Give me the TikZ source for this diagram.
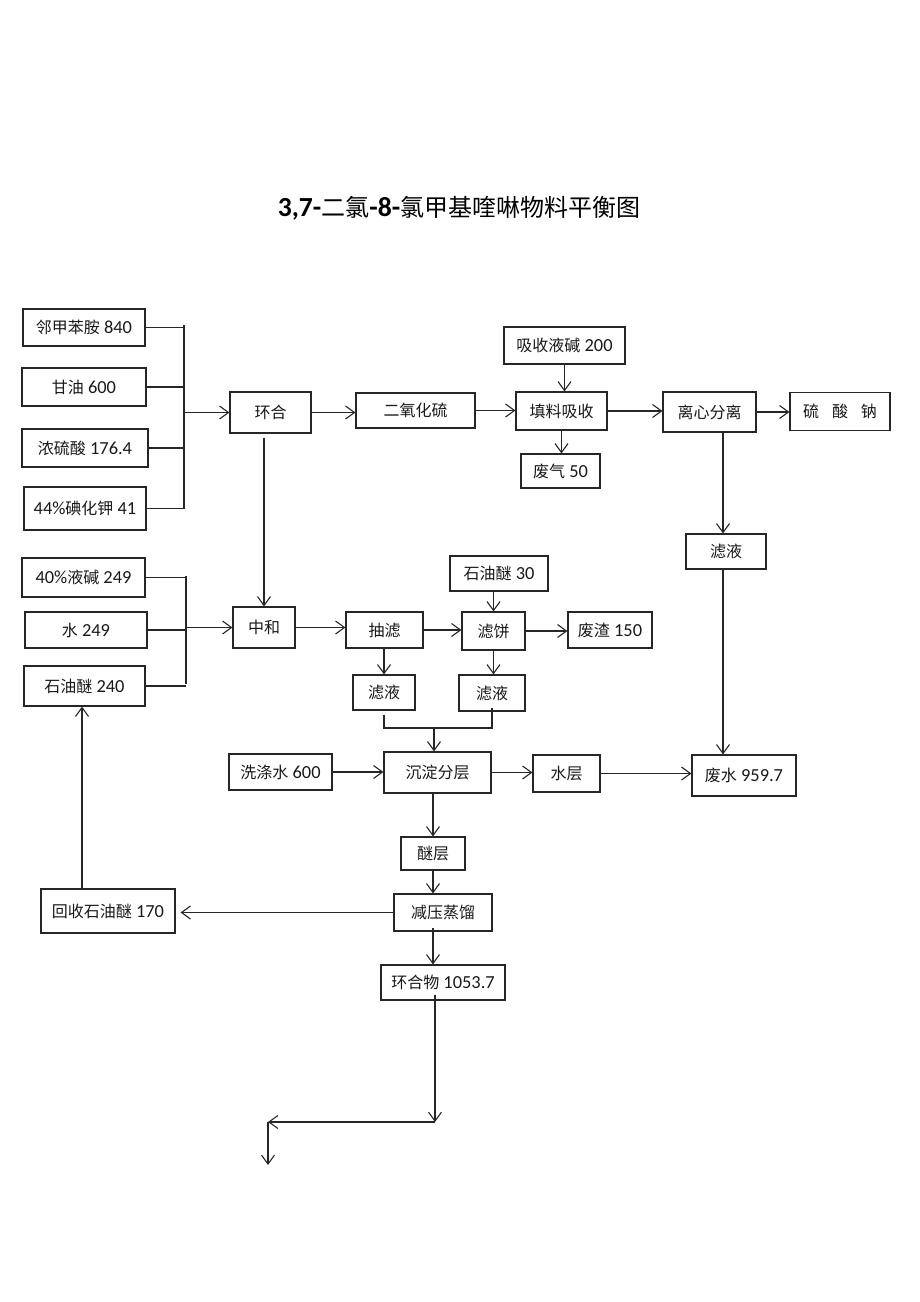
\documentclass[tikz,border=0pt]{standalone}
\usepackage{fontspec}
\setmainfont{Carlito}[Scale=1.15]
\newfontfamily\cjk{Noto Sans CJK SC}
\usetikzlibrary{arrows.meta}
\begin{document}
\begin{tikzpicture}[x=1pt,y=-1pt,
  box/.style={draw=black!85, line width=1.1pt, inner sep=0pt, font=\fontsize{16}{19}\selectfont, text=black!90},
  ln/.style={draw=black!85, line width=1.1pt},
  arr/.style={ln, -{Straight Barb[length=9pt,width=13pt]}}]
\useasboundingbox[fill=white] (0,0) rectangle (920,1302);

\node[font=\fontsize{24}{29}\selectfont] (title) at (459,208) {\textbf{3,7-}{\cjk 二氯}\textbf{-8-}{\cjk 氯甲基喹啉物料平衡图}};

% inputs group 1
\node[box,minimum width=122pt,minimum height=37pt] (in1) at (84,327.5) {{\cjk 邻甲苯胺} 840};
\node[box,minimum width=124pt,minimum height=38pt] (in2) at (84,387) {{\cjk 甘油} 600\hspace{1.2em}};
\node[box,minimum width=126pt,minimum height=38pt] (in3) at (85,448) {{\cjk 浓硫酸} 176.4};
\node[box,minimum width=122pt,minimum height=43pt] (in4) at (85,508.5) {44\%{\cjk 碘化钾} 41};

\node[box,minimum width=81pt,minimum height=41pt] (hh) at (270.5,412.5) {\cjk 环合};
\node[box,minimum width=119pt,minimum height=35pt] (so2) at (415.5,410.5) {\cjk 二氧化硫\hspace{1em}};
\node[box,minimum width=121pt,minimum height=37pt] (ab) at (564.5,345.5) {{\cjk 吸收液碱} 200};
\node[box,minimum width=91pt,minimum height=38pt] (tl) at (561.5,411) {\cjk 填料吸收};
\node[box,minimum width=79pt,minimum height=34pt] (fq) at (560.5,471) {{\cjk 废气} 50};
\node[box,minimum width=93pt,minimum height=40pt] (lx) at (709.5,412) {\cjk 离心分离};
\node[box,minimum width=100pt,minimum height=38pt] (sn) at (840,411.5) {\cjk 硫\hspace{0.8em}酸\hspace{0.8em}钠};
\node[box,minimum width=80pt,minimum height=35pt] (ly1) at (726,551.5) {\cjk 滤液\hspace{1em}};

% inputs group 2
\node[box,minimum width=123pt,minimum height=39pt] (a1) at (83.5,577.5) {40\%{\cjk 液碱} 249};
\node[box,minimum width=122pt,minimum height=36pt] (a2) at (86,630) {{\cjk 水} 249\hspace{2.2em}};
\node[box,minimum width=121pt,minimum height=40pt] (a3) at (84.5,686) {{\cjk 石油醚} 240\hspace{0.8em}};

\node[box,minimum width=62pt,minimum height=41pt] (zh) at (264,627.5) {\cjk 中和};
\node[box,minimum width=77pt,minimum height=36pt] (cl) at (384.5,630) {\cjk 抽滤\hspace{1em}};
\node[box,minimum width=98pt,minimum height=35pt] (sy30) at (499,573.5) {{\cjk 石油醚} 30};
\node[box,minimum width=63pt,minimum height=38pt] (lb) at (493.5,631) {\cjk 滤饼};
\node[box,minimum width=84pt,minimum height=36pt] (fz) at (610,630) {{\cjk 废渣} 150};
\node[box,minimum width=62pt,minimum height=35pt] (ly2) at (384,692.5) {\cjk 滤液};
\node[box,minimum width=66pt,minimum height=36pt] (ly3) at (492,693) {\cjk 滤液};

\node[box,minimum width=103pt,minimum height=36pt] (xd) at (280.5,772) {{\cjk 洗涤水} 600};
\node[box,minimum width=107pt,minimum height=41pt] (cd) at (437.5,772.5) {\cjk 沉淀分层\hspace{0.8em}};
\node[box,minimum width=67pt,minimum height=37pt] (sc) at (566.5,773.5) {\cjk 水层\hspace{0.6em}};
\node[box,minimum width=104pt,minimum height=41pt] (fs) at (744,775.5) {{\cjk 废水} 959.7};
\node[box,minimum width=64pt,minimum height=33pt] (mc) at (433,853.5) {\cjk 醚层};
\node[box,minimum width=98pt,minimum height=37pt] (jy) at (443,912.5) {\cjk 减压蒸馏};
\node[box,minimum width=134pt,minimum height=44pt] (hs) at (108,911) {{\cjk 回收石油醚} 170};
\node[box,minimum width=124pt,minimum height=35pt] (hhw) at (443,982.5) {{\cjk 环合物} 1053.7};

% bus 1
\coordinate (b1t) at (184,325);
\coordinate (b1b) at (184,509);
\draw[ln] (b1t) -- (b1b);
\draw[ln] (in1.east) -- (in1.east -| b1t);
\draw[ln] (in2.east) -- (in2.east -| b1t);
\draw[ln] (in3.east) -- (in3.east -| b1t);
\draw[ln] (in4.east) -- (in4.east -| b1t);
\draw[arr] (hh.west -| b1t) -- (hh.west);

\draw[arr] (hh.east) -- (hh.east -| so2.west);
\draw[arr] (so2.east) -- (so2.east -| tl.west);
\draw[arr] (ab.south) -- (ab.south |- tl.north);
\draw[arr] (tl.south) -- (tl.south |- fq.north);
\draw[arr] (tl.east) -- (tl.east -| lx.west);
\draw[arr] (lx.east) -- (lx.east -| sn.west);
\coordinate (rx) at (723,0);
\draw[arr] (lx.south -| rx) -- (ly1.north -| rx);
\draw[arr] (ly1.south -| rx) -- (fs.north -| rx);

% hh to zh
\draw[arr] (zh.north |- hh.south) ++(0,4) -- (zh.north);

% bus 2
\coordinate (b2t) at (186,576);
\coordinate (b2b) at (186,684);
\draw[ln] (b2t) -- (b2b);
\draw[ln] (a1.east) -- (a1.east -| b2t);
\draw[ln] (a2.east) -- (a2.east -| b2t);
\draw[ln] (a3.east) -- (a3.east -| b2t);
\draw[arr] (zh.west -| b2t) -- (zh.west);

\draw[arr] (zh.east) -- (zh.east -| cl.west);
\draw[arr] (cl.east) -- (cl.east -| lb.west);
\draw[arr] (lb.north |- sy30.south) -- (lb.north);
\draw[arr] (lb.east) -- (lb.east -| fz.west);
\draw[arr] (ly2.north |- cl.south) -- (ly2.north);
\draw[arr] (lb.south) -- (lb.south |- ly3.north);

% junction
\coordinate (jx) at (434,728);
\draw[ln] (ly2.south) ++(0,4) -- (ly2.south |- jx) -- (ly3.south |- jx) -- ([yshift=4pt]ly3.south);
\draw[arr] (jx) -- (jx |- cd.north);

\draw[arr] (xd.east) -- (xd.east -| cd.west);
\draw[arr] (cd.east) -- (cd.east -| sc.west);
\draw[arr] (sc.east) -- (sc.east -| fs.west);
\coordinate (mx) at (433,0);
\draw[arr] (cd.south -| mx) -- (mc.north -| mx);
\draw[arr] (mc.south -| mx) -- (jy.north -| mx);
\draw[arr] (jy.west) -- ([xshift=5pt]jy.west -| hs.east);
\coordinate (hx) at (82,0);
\draw[arr] (hs.north -| hx) -- (a3.south -| hx);
\draw[arr] ([yshift=4pt]jy.south -| mx) -- (hhw.north -| mx);

% bottom arrows
\coordinate (c1) at (435,1122);
\coordinate (c2) at (268,1122);
\coordinate (c3) at (268,1165);
\draw[arr] ([yshift=6pt]hhw.south -| c1) -- (c1);
\draw[arr] (c1) -- (c2);
\draw[arr] (c2) -- (c3);
\end{tikzpicture}
\end{document}
